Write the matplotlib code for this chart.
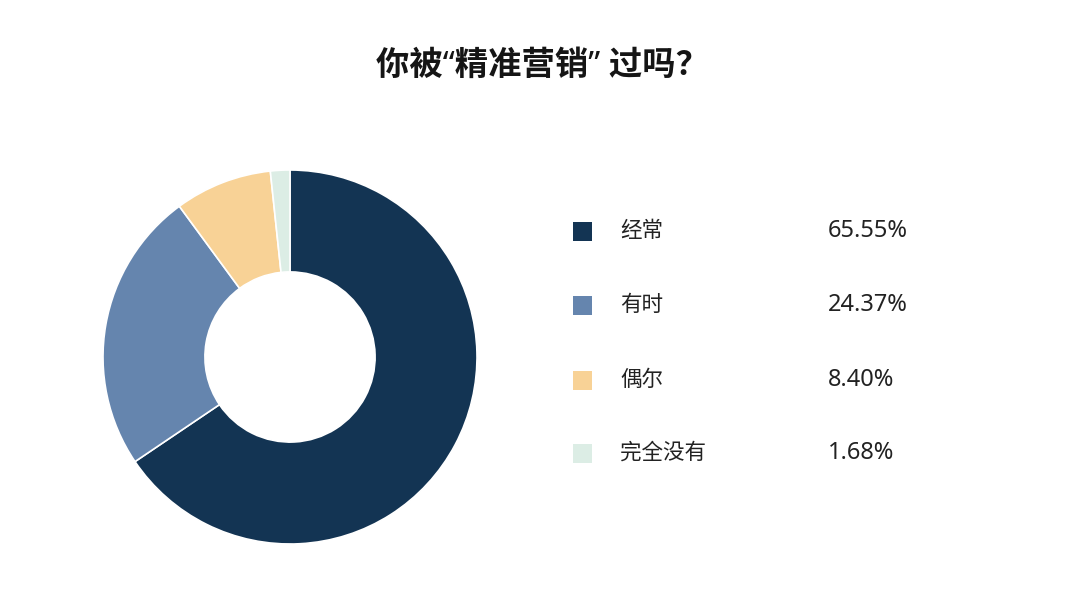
import matplotlib
matplotlib.use('Agg')
import matplotlib.pyplot as plt
from matplotlib.patches import Rectangle

plt.rcParams['font.family'] = ['Noto Sans CJK SC', 'DejaVu Sans']

title = '你被“精准营销” 过吗？'
labels = ['经常', '有时', '偶尔', '完全没有']
values = [65.55, 24.37, 8.40, 1.68]
colors = ['#133453', '#6585ae', '#f8d296', '#dcede5']

W, H = 1080, 597
fig = plt.figure(figsize=(W / 100, H / 100), dpi=100)

# donut: centre (290, 357) px, outer radius 187 px
cx, cy, r = 290, 357, 187
ax = fig.add_axes([(cx - r) / W, (H - cy - r) / H, 2 * r / W, 2 * r / H])
ax.pie(values, colors=colors, startangle=90, counterclock=False, radius=1,
       wedgeprops=dict(width=0.545, edgecolor='white', linewidth=1.2))
ax.set_xlim(-1, 1)
ax.set_ylim(-1, 1)
ax.set_aspect('equal')

fig.text(542 / W, 1 - 66 / H, title, ha='center', va='center',
         fontsize=24, fontweight='bold', color='#151515',
         family=['Noto Sans', 'Noto Sans CJK SC'])

rows_y = [231, 305, 380, 453]
for lab, val, col, y in zip(labels, values, colors, rows_y):
    fig.patches.append(Rectangle((573 / W, 1 - (y + 10) / H), 19 / W, 19 / H,
                                 transform=fig.transFigure, facecolor=col,
                                 edgecolor='none'))
    fig.text(620 / W, 1 - y / H, lab, ha='left', va='center',
             fontsize=15.5, color='#222222')
    fig.text(828 / W, 1 - y / H, f'{val:.2f}%', ha='left', va='center',
             fontsize=17, color='#222222', family=['Noto Sans', 'DejaVu Sans'])

fig.savefig('out.png', dpi=100, facecolor='white')
